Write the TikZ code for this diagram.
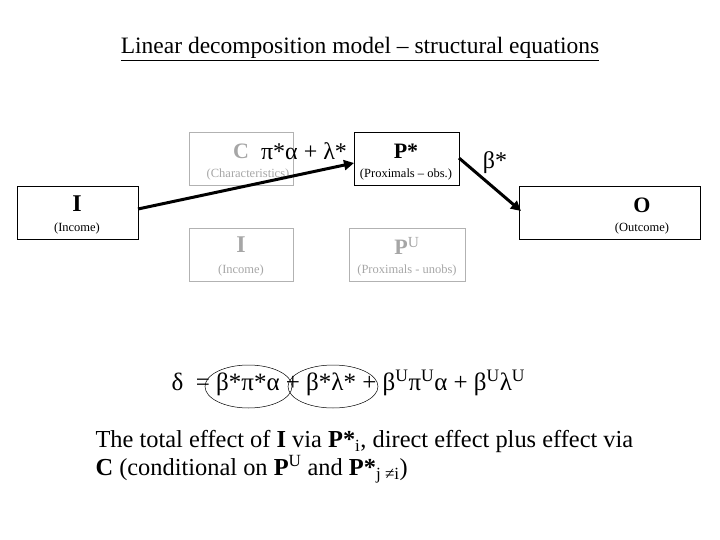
\documentclass[tikz,border=0pt]{standalone}
\usepackage{fontspec}
\setmainfont{Liberation Serif}
\usetikzlibrary{arrows.meta}
\begin{document}
\begin{tikzpicture}[x=1pt,y=-1pt,
  blk/.style={draw,line width=0.8pt,fill=white},
  gry/.style={draw=black!30,text=black!35,line width=0.8pt},
  sml/.style={font=\fontsize{12.5}{13}\selectfont},
  arr/.style={line width=3pt,-{Triangle[length=10pt,width=10pt]}}]
\useasboundingbox (0,0) rectangle (720,540);
\node (title) at (360,49) {\fontsize{23.5}{26}\selectfont\underline{Linear decomposition model – structural equations}};
% gray boxes
\draw[gry] (189,132) rectangle (293,185);
\node[text=black!35] (ct) at (241,151) {\fontsize{22}{22}\selectfont\textbf{C}};
\node[text=black!35,sml] (cs) at (248,174) {(Characteristics)};
\draw[gry] (189,228) rectangle (293,281);
\node[text=black!35] (it) at (241,245) {\fontsize{24}{24}\selectfont\textbf{I}};
\node[text=black!35,sml] (is) at (241,270) {(Income)};
\draw[gry] (349,228) rectangle (465,281);
\node[text=black!35] (pu) at (407,246) {\fontsize{22}{22}\selectfont\textbf{P}\textsuperscript{U}};
\node[text=black!35,sml] (pus) at (407,270) {(Proximals - unobs)};
% black boxes
\draw[blk] (17,186) rectangle (138,239);
\node (Ilab) at (77,204) {\fontsize{24}{24}\selectfont\textbf{I}};
\node[sml] (Isub) at (77,228) {(Income)};
\coordinate (Iout) at (138,209);
\draw[blk] (354,132) rectangle (459,185);
\node (Plab) at (406,151) {\fontsize{22}{22}\selectfont\textbf{P*}};
\node[sml] (Psub) at (406,174) {(Proximals – obs.)};
\coordinate (Pin) at (354,163);
\coordinate (Pout) at (459,158);
\draw[blk] (519,186) rectangle (700,239);
\node (Olab) at (642,205) {\fontsize{22}{22}\selectfont\textbf{O}};
\node[sml] (Osub) at (642,228) {(Outcome)};
\coordinate (Oin) at (521,211);
\node (pilab) at (304,151) {\fontsize{24}{24}\selectfont π*α + λ*};
\node (betalab) at (495,163) {\fontsize{24}{24}\selectfont β*};
\draw[arr] (Iout) -- (Pin);
\draw[arr] (Pout) -- (Oin);
% equation
\node[anchor=west] (eq) at (168,383) {\fontsize{25}{25}\selectfont δ\ \ = β*π*α + β*λ* + β\textsuperscript{U}π\textsuperscript{U}α + β\textsuperscript{U}λ\textsuperscript{U}};
\draw[line width=0.5pt] (248.5,386.5) ellipse (43.5 and 21.5);
\draw[line width=0.5pt] (333,386.5) ellipse (45 and 21.5);
\node[anchor=west,align=left,font=\fontsize{24.4}{28}\selectfont] (txt) at (92,457) {The total effect of \textbf{I} via \textbf{P*}\textsubscript{i}, direct effect plus effect via\\ \textbf{C} (conditional on \textbf{P}\textsuperscript{U} and \textbf{P*}\textsubscript{j ≠i})};
\end{tikzpicture}
\end{document}
